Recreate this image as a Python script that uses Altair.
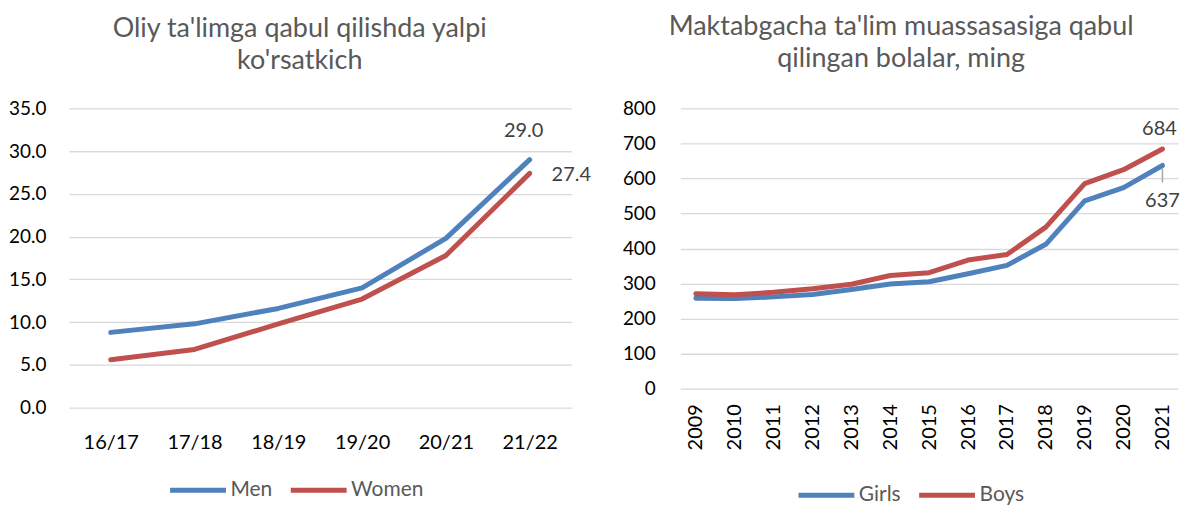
import altair as alt
import pandas as pd

# ---- data ----
years_l = ["16/17", "17/18", "18/19", "19/20", "20/21", "21/22"]
men = [8.8, 9.8, 11.6, 14.0, 19.8, 29.0]
women = [5.6, 6.8, 9.8, 12.7, 17.8, 27.4]

years_r = ["2009", "2010", "2011", "2012", "2013", "2014", "2015",
           "2016", "2017", "2018", "2019", "2020", "2021"]
girls = [258, 257, 262, 269, 283, 299, 305, 328, 352, 412, 536, 574, 637]
boys = [271, 268, 275, 285, 298, 323, 331, 367, 383, 461, 585, 625, 684]

title_l = ["Oliy ta'limga qabul qilishda yalpi", "ko'rsatkich"]
title_r = ["Maktabgacha ta'lim muassasasiga qabul", "qilingan bolalar, ming"]

BLUE = "#4F81BD"
RED = "#C0504D"
FONT = "Lato"
LABEL_C = "#595959"
VALUE_C = "#404040"

df_l = pd.DataFrame(
    [{"year": y, "series": "Men", "value": v, "order": i} for i, (y, v) in enumerate(zip(years_l, men))]
    + [{"year": y, "series": "Women", "value": v, "order": i} for i, (y, v) in enumerate(zip(years_l, women))]
)
df_r = pd.DataFrame(
    [{"year": y, "series": "Girls", "value": v, "order": i} for i, (y, v) in enumerate(zip(years_r, girls))]
    + [{"year": y, "series": "Boys", "value": v, "order": i} for i, (y, v) in enumerate(zip(years_r, boys))]
)

NO_VIEW = alt.ViewBackground(strokeWidth=0, strokeOpacity=0, stroke="transparent")

def title_params(text, offset):
    return alt.TitleParams(text=text, font=FONT, fontSize=27, fontWeight="normal",
                           color=LABEL_C, anchor="middle", frame="bounds",
                           lineHeight=33, offset=offset)

def legend(x, y):
    return alt.Legend(orient="none", legendX=x, legendY=y,
                      direction="horizontal", symbolType="stroke",
                      symbolSize=3136, symbolStrokeWidth=5,
                      labelOffset=2, columnPadding=8,
                      labelFontSize=21, labelFont=FONT, labelColor=LABEL_C)

# ---- left chart ----
xl = alt.X("year:N", sort=years_l, title=None,
           scale=alt.Scale(type="point", padding=0.5),
           axis=alt.Axis(labelAngle=0, labelPadding=25, ticks=False, domain=False,
                         grid=False, labelFontSize=20))
yl = alt.Y("value:Q", title=None,
           scale=alt.Scale(domain=[0, 35], nice=False),
           axis=alt.Axis(values=[0, 5, 10, 15, 20, 25, 30, 35], format=".1f",
                         ticks=False, domain=False, labelPadding=23, labelFontSize=19,
                         labelOverlap=False,
                         gridColor="#D9D9D9", gridWidth=1.3))
color_l = alt.Color("series:N", scale=alt.Scale(domain=["Men", "Women"], range=[BLUE, RED]),
                    title=None, legend=legend(99, 352))

base_l = alt.Chart(df_l)
line_l = base_l.mark_line(strokeWidth=5, strokeCap="round", strokeJoin="round").encode(
    x=xl, y=yl, color=color_l, order="order:Q")
lab_men = base_l.transform_filter(
    (alt.datum.series == "Men") & (alt.datum.year == "21/22")
).mark_text(fontSize=20, font=FONT, color=VALUE_C, dx=-6, dy=-29).encode(
    x=xl, y=yl, text=alt.Text("value:Q", format=".1f"))
lab_women = base_l.transform_filter(
    (alt.datum.series == "Women") & (alt.datum.year == "21/22")
).mark_text(fontSize=20, font=FONT, color=VALUE_C, align="left", dx=22, dy=2).encode(
    x=xl, y=yl, text=alt.Text("value:Q", format=".1f"))

left = alt.layer(line_l, lab_men, lab_women).properties(
    width=504, height=300, title=title_params(title_l, 24), view=NO_VIEW)

# ---- right chart ----
xr = alt.X("year:N", sort=years_r, title=None,
           scale=alt.Scale(type="point", padding=0.4),
           axis=alt.Axis(labelAngle=270, labelPadding=15, ticks=False, domain=False,
                         grid=False, labelFontSize=20, labelAlign="right",
                         labelBaseline="middle", labelOverlap=False))
yr = alt.Y("value:Q", title=None,
           scale=alt.Scale(domain=[0, 800], nice=False),
           axis=alt.Axis(values=[0, 100, 200, 300, 400, 500, 600, 700, 800], format="d",
                         ticks=False, domain=False, labelPadding=25, labelFontSize=19,
                         labelOverlap=False,
                         gridColor="#D9D9D9", gridWidth=1.3))
color_r = alt.Color("series:N", scale=alt.Scale(domain=["Girls", "Boys"], range=[BLUE, RED]),
                    title=None, legend=legend(116, 357))

base_r = alt.Chart(df_r)
line_r = base_r.mark_line(strokeWidth=5, strokeCap="round", strokeJoin="round").encode(
    x=xr, y=yr, color=color_r, order="order:Q")
lab_boys = base_r.transform_filter(
    (alt.datum.series == "Boys") & (alt.datum.year == "2021")
).mark_text(fontSize=20, font=FONT, color=VALUE_C, dx=-3, dy=-20).encode(
    x=xr, y=yr, text=alt.Text("value:Q", format="d"))
lab_girls = base_r.transform_filter(
    (alt.datum.series == "Girls") & (alt.datum.year == "2021")
).mark_text(fontSize=20, font=FONT, color=VALUE_C, dy=36).encode(
    x=xr, y=yr, text=alt.Text("value:Q", format="d"))
leader = base_r.transform_filter(
    (alt.datum.series == "Girls") & (alt.datum.year == "2021")
).mark_rule(color="#A6A6A6", strokeWidth=1.5, yOffset=3, y2Offset=17).encode(
    x=xr, y=yr, y2="value:Q")

right = alt.layer(line_r, leader, lab_boys, lab_girls).properties(
    width=499, height=281, title=title_params(title_r, 26), view=NO_VIEW)

chart = alt.hconcat(left, right, spacing=30).resolve_scale(
    color="independent", x="independent", y="independent"
).resolve_legend(color="independent").configure_view(
    strokeWidth=0, stroke="transparent"
).configure_axis(
    labelFont=FONT, labelColor=LABEL_C, domain=False
).configure_axisX(grid=False).configure(
    font=FONT, padding={"left": 0, "top": 4, "right": 0, "bottom": 0})

chart.save("out.html", embed_options={"renderer": "svg", "actions": False})
